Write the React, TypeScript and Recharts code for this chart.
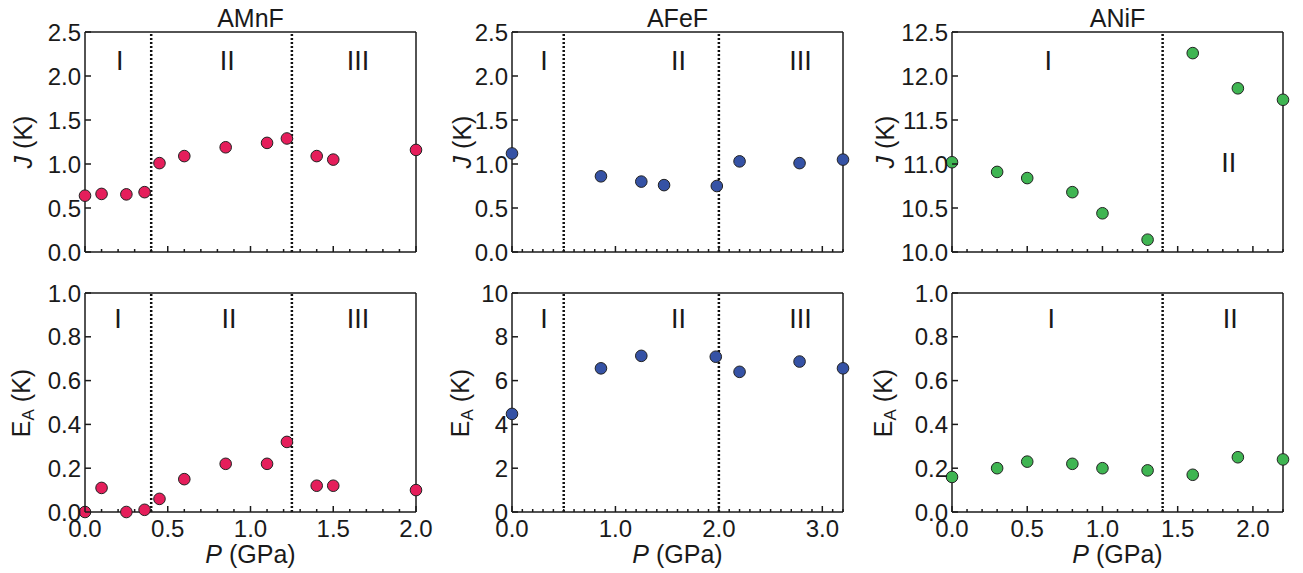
import React from "react";
import { ScatterChart, Scatter, XAxis, YAxis, ReferenceLine, ReferenceDot } from "recharts";

const FONT = '"Liberation Sans", Arial, Helvetica, sans-serif';
const INK = "#1a1a1a";

// AMnF
const mnP = [0, 0.1, 0.25, 0.36, 0.45, 0.6, 0.85, 1.1, 1.22, 1.4, 1.5, 2.0];
const mnJ = [0.64, 0.66, 0.655, 0.68, 1.01, 1.09, 1.19, 1.24, 1.29, 1.09, 1.05, 1.16];
const mnEA = [0.0, 0.11, 0.0, 0.01, 0.06, 0.15, 0.22, 0.22, 0.32, 0.12, 0.12, 0.1];
// AFeF
const feP_J = [0, 0.86, 1.25, 1.47, 1.98, 2.2, 2.78, 3.2];
const feJ = [1.12, 0.86, 0.8, 0.76, 0.75, 1.03, 1.01, 1.05];
const feP_EA = [0, 0.86, 1.25, 1.97, 2.2, 2.78, 3.2];
const feEA = [4.48, 6.56, 7.13, 7.09, 6.4, 6.87, 6.56];
// ANiF
const niP = [0, 0.3, 0.5, 0.8, 1.0, 1.3, 1.6, 1.9, 2.2];
const niJ = [11.02, 10.91, 10.84, 10.68, 10.44, 10.14, 12.26, 11.86, 11.73];
const niEA = [0.16, 0.2, 0.23, 0.22, 0.2, 0.19, 0.17, 0.25, 0.24];

const titles = ["AMnF", "AFeF", "ANiF"];
const colors = ["#e51e5b", "#3552a5", "#3fb552"];

const mnXTicks = [0, 0.5, 1.0, 1.5, 2.0];
const feXTicks = [0, 1, 2, 3];
const niXTicks = [0, 0.5, 1.0, 1.5, 2.0];
const mnJTicks = [0, 0.5, 1.0, 1.5, 2.0, 2.5];
const mnEATicks = [0, 0.2, 0.4, 0.6, 0.8, 1.0];
const feJTicks = [0, 0.5, 1.0, 1.5, 2.0, 2.5];
const feEATicks = [0, 2, 4, 6, 8, 10];
const niJTicks = [10, 10.5, 11, 11.5, 12, 12.5];
const niEATicks = [0, 0.2, 0.4, 0.6, 0.8, 1.0];

const mnBounds = [0.4, 1.25];
const feBounds = [0.5, 2.0];
const niBounds = [1.4];

const phases3 = ["I", "II", "III"];
const phases2 = ["I", "II"];

const rows = (xs: number[], ys: number[]) => xs.map((p, i) => ({ p, v: ys[i] }));
const minorTicks = (max: number) =>
  Array.from({ length: Math.round(max * 10) + 1 }, (_, i) => i / 10);
const f1 = (v: number) => v.toFixed(1);
const f0 = (v: number) => String(v);

const COL_LEFT = [85, 512, 952];
const PLOT_W = 331;
const ROW_TOP = [32, 293];
const PLOT_H = [220, 219];

type PanelCfg = {
  col: number;
  row: number;
  xMax: number;
  xMajor: number[];
  yDomain: [number, number];
  yTicks: number[];
  yFmt: (v: number) => string;
  data: { p: number; v: number }[];
  bounds: number[];
  labels: string[];
  labelX: number[];
  labelY: number[];
};

const panels: PanelCfg[] = [
  { col: 0, row: 0, xMax: 2.0, xMajor: mnXTicks, yDomain: [0, 2.5], yTicks: mnJTicks, yFmt: f1,
    data: rows(mnP, mnJ), bounds: mnBounds, labels: phases3, labelX: [0.21, 0.86, 1.65], labelY: [2.18, 2.18, 2.18] },
  { col: 0, row: 1, xMax: 2.0, xMajor: mnXTicks, yDomain: [0, 1], yTicks: mnEATicks, yFmt: f1,
    data: rows(mnP, mnEA), bounds: mnBounds, labels: phases3, labelX: [0.2, 0.87, 1.65], labelY: [0.885, 0.885, 0.885] },
  { col: 1, row: 0, xMax: 3.2, xMajor: feXTicks, yDomain: [0, 2.5], yTicks: feJTicks, yFmt: f1,
    data: rows(feP_J, feJ), bounds: feBounds, labels: phases3, labelX: [0.31, 1.61, 2.79], labelY: [2.18, 2.18, 2.18] },
  { col: 1, row: 1, xMax: 3.2, xMajor: feXTicks, yDomain: [0, 10], yTicks: feEATicks, yFmt: f0,
    data: rows(feP_EA, feEA), bounds: feBounds, labels: phases3, labelX: [0.31, 1.61, 2.79], labelY: [8.85, 8.85, 8.85] },
  { col: 2, row: 0, xMax: 2.2, xMajor: niXTicks, yDomain: [10, 12.5], yTicks: niJTicks, yFmt: f1,
    data: rows(niP, niJ), bounds: niBounds, labels: phases2, labelX: [0.64, 1.84], labelY: [12.18, 11.02] },
  { col: 2, row: 1, xMax: 2.2, xMajor: niXTicks, yDomain: [0, 1], yTicks: niEATicks, yFmt: f1,
    data: rows(niP, niEA), bounds: niBounds, labels: phases2, labelX: [0.66, 1.85], labelY: [0.885, 0.885] },
];

const ML = 75;
const MT = 12;
const MR = 22;
const AX = 1; // thickness reserved by each axis

const isMajor = (majors: number[], v: number) => majors.some((m) => Math.abs(m - v) < 1e-6);

function makeXTick(majors: number[], side: "top" | "bottom", showLabels: boolean) {
  return (props: any) => {
    const { x, y, payload } = props;
    const major = isMajor(majors, payload.value);
    const len = major ? 6 : 3;
    const dir = side === "bottom" ? -1 : 1;
    return (
      <g>
        <line x1={x} y1={y} x2={x} y2={y + dir * len} stroke={INK} strokeWidth={1.5} />
        {showLabels && major && (
          <text x={x} y={y + 16} textAnchor="middle" dominantBaseline="central"
            fontSize={24} fontFamily={FONT} fill={INK}>
            {f1(payload.value)}
          </text>
        )}
      </g>
    );
  };
}

function makeYTick(side: "left" | "right", fmt: (v: number) => string) {
  return (props: any) => {
    const { x, y, payload } = props;
    const dir = side === "left" ? 1 : -1;
    return (
      <g>
        <line x1={x} y1={y} x2={x + dir * 6} y2={y} stroke={INK} strokeWidth={1.5} />
        {side === "left" && (
          <text x={x - 4} y={y} textAnchor="end" dominantBaseline="central"
            fontSize={24} fontFamily={FONT} fill={INK}>
            {fmt(payload.value)}
          </text>
        )}
      </g>
    );
  };
}

function Dotshape(color: string) {
  return (props: any) => (
    <circle cx={props.cx} cy={props.cy} r={5.8} fill={color} stroke="#222" strokeWidth={1} />
  );
}

function Panel({ cfg }: { cfg: PanelCfg }) {
  const bottom = cfg.row === 1;
  const MB = bottom ? 36 : 12;
  const plotH = PLOT_H[cfg.row];
  const w = PLOT_W + ML + MR;
  const h = plotH + MT + MB;
  const minors = minorTicks(cfg.xMax);
  const axisLine = { stroke: INK, strokeWidth: 1.5 };
  const color = colors[cfg.col];
  return (
    <div style={{ position: "absolute", left: COL_LEFT[cfg.col] - ML, top: ROW_TOP[cfg.row] - MT }}>
      <ScatterChart width={w} height={h}
        margin={{ top: MT - AX, right: MR - AX, bottom: MB - AX, left: ML - AX }}>
        <XAxis xAxisId="b" dataKey="p" type="number" orientation="bottom" domain={[0, cfg.xMax]}
          ticks={minors} interval={0} height={AX} tickSize={0} tickMargin={0}
          axisLine={axisLine} tickLine={false} tick={makeXTick(cfg.xMajor, "bottom", bottom)} />
        <XAxis xAxisId="t" dataKey="p" type="number" orientation="top" domain={[0, cfg.xMax]}
          ticks={minors} interval={0} height={AX} tickSize={0} tickMargin={0}
          axisLine={axisLine} tickLine={false} tick={makeXTick(cfg.xMajor, "top", false)} />
        <YAxis yAxisId="l" dataKey="v" type="number" orientation="left" domain={cfg.yDomain}
          ticks={cfg.yTicks} interval={0} width={AX} tickSize={0} tickMargin={0}
          axisLine={axisLine} tickLine={false} tick={makeYTick("left", cfg.yFmt)} />
        <YAxis yAxisId="r" dataKey="v" type="number" orientation="right" domain={cfg.yDomain}
          ticks={cfg.yTicks} interval={0} width={AX} tickSize={0} tickMargin={0}
          axisLine={axisLine} tickLine={false} tick={makeYTick("right", cfg.yFmt)} />
        {cfg.bounds.map((b) => (
          <ReferenceLine key={b} x={b} xAxisId="b" yAxisId="l" stroke="#111"
            strokeWidth={2.5} strokeDasharray="2 2" />
        ))}
        {cfg.labels.map((t, i) => (
          <ReferenceDot key={t} x={cfg.labelX[i]} y={cfg.labelY[i]} xAxisId="b" yAxisId="l"
            r={0} fill="none" stroke="none"
            label={{ value: t, position: "center", fontSize: 27, fill: INK, fontFamily: FONT }} />
        ))}
        <Scatter data={cfg.data} xAxisId="b" yAxisId="l" dataKey="v"
          shape={Dotshape(color)} isAnimationActive={false} />
      </ScatterChart>
    </div>
  );
}

const textStyle: React.CSSProperties = {
  position: "absolute",
  fontFamily: FONT,
  fontSize: 25,
  color: INK,
  whiteSpace: "nowrap",
  lineHeight: 1,
};

export default function App() {
  const yLabelX = [23, 462, 885];
  return (
    <div style={{ position: "absolute", left: 0, top: 0, width: 1303, height: 573, background: "#fff" }}>
      {panels.map((cfg, i) => (
        <Panel key={i} cfg={cfg} />
      ))}
      {titles.map((t, c) => (
        <div key={t} style={{ ...textStyle, left: COL_LEFT[c] + PLOT_W / 2, top: 18,
          transform: "translate(-50%, -50%)" }}>{t}</div>
      ))}
      {titles.map((t, c) => (
        <div key={"xl" + t} style={{ ...textStyle, left: COL_LEFT[c] + PLOT_W / 2, top: 554,
          transform: "translate(-50%, -50%)" }}><i>P</i> (GPa)</div>
      ))}
      {yLabelX.map((x, c) => (
        <div key={"jl" + c} style={{ ...textStyle, left: x, top: ROW_TOP[0] + PLOT_H[0] / 2,
          transform: "translate(-50%, -50%) rotate(-90deg)" }}><i>J</i> (K)</div>
      ))}
      {yLabelX.map((x, c) => (
        <div key={"el" + c} style={{ ...textStyle, left: x, top: ROW_TOP[1] + PLOT_H[1] / 2,
          transform: "translate(-50%, -50%) rotate(-90deg)" }}>
          E<sub style={{ fontSize: 17, verticalAlign: "-0.25em" }}>A</sub> (K)
        </div>
      ))}
    </div>
  );
}
